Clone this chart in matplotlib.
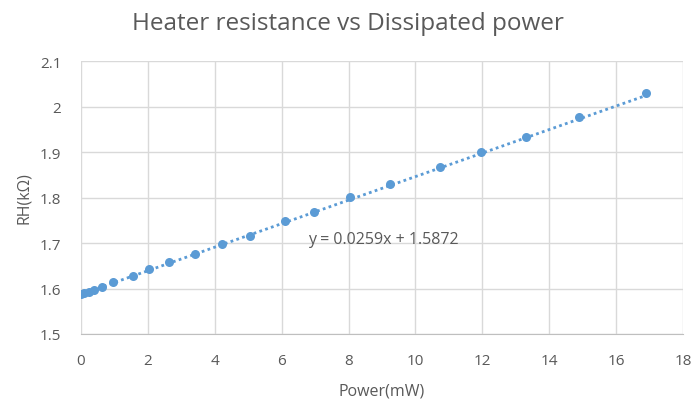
import matplotlib
matplotlib.use("Agg")
import matplotlib.pyplot as plt
import numpy as np

power_mw = [0.02, 0.10, 0.24, 0.40, 0.64, 0.97, 1.55, 2.05, 2.64, 3.41, 4.23,
            5.05, 6.10, 6.96, 8.04, 9.25, 10.73, 11.95, 13.31, 14.88, 16.88]
rh_kohm = [1.588, 1.590, 1.593, 1.597, 1.604, 1.614, 1.627, 1.642, 1.659, 1.676, 1.699,
           1.716, 1.749, 1.769, 1.801, 1.830, 1.867, 1.901, 1.934, 1.978, 2.029]
slope = 0.0259
intercept = 1.5872
x_ticks = [0, 2, 4, 6, 8, 10, 12, 14, 16, 18]
y_ticks = [1.5, 1.6, 1.7, 1.8, 1.9, 2.0, 2.1]
y_tick_labels = ["1.5", "1.6", "1.7", "1.8", "1.9", "2", "2.1"]

plt.rcParams['font.family'] = ['Open Sans', 'DejaVu Sans']
W, H = 695, 406
fig = plt.figure(figsize=(W / 100, H / 100), dpi=100)
ax = fig.add_axes([80.7 / W, 1 - 335 / H, (683.3 - 80.7) / W, (335 - 62.2) / H])

blue = '#5b9bd5'
gray_text = '#595959'

# trendline
xs = np.array([0, max(power_mw)])
ax.plot(xs, slope * xs + intercept, linestyle=(0, (1, 1.2)), color=blue, lw=2, zorder=3)
ax.plot(power_mw, rh_kohm, 'o', color=blue, markersize=6.5, markeredgewidth=0, zorder=4)

ax.set_xlim(0, 18)
ax.set_ylim(1.5, 2.1)
ax.set_xticks(x_ticks)
ax.set_yticks(y_ticks)
ax.set_yticklabels(y_tick_labels)
ax.grid(True, color='#d9d9d9', lw=1)
ax.set_axisbelow(True)
for s in ['top', 'right', 'left']:
    ax.spines[s].set_visible(False)
ax.spines['bottom'].set_color('#bfbfbf')
ax.tick_params(axis='both', length=0, labelsize=11, labelcolor=gray_text)
ax.tick_params(axis='y', pad=14)
ax.tick_params(axis='x', pad=14)

ax.text(6.8, 1.709, "y = 0.0259x + 1.5872", fontsize=11.5, color=gray_text,
        ha='left', va='center')

fig.text(347.5 / W, 1 - 30 / H, "Heater resistance vs Dissipated power",
         ha='center', va='baseline', fontsize=17.5, color=gray_text)
fig.text(382 / W, 1 - 392 / H, "Power(mW)", ha='center', va='center',
         fontsize=11.5, color=gray_text)
fig.text(24 / W, 1 - 198 / H, "RH(kΩ)", ha='center', va='center', rotation=90,
         fontsize=11.5, color=gray_text)

fig.savefig("out.png", dpi=100)
